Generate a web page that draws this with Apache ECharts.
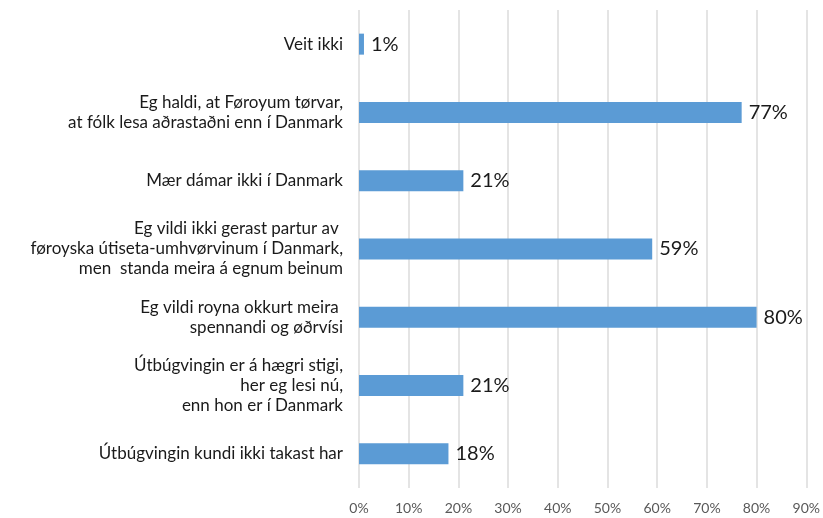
<!DOCTYPE html>
<html>
<head>
<meta charset="utf-8">
<script src="https://cdn.jsdelivr.net/npm/echarts@6/dist/echarts.min.js"></script>
<style>
  html, body { margin: 0; padding: 0; background: #fff; }
  #chart { width: 823px; height: 518px; }
</style>
</head>
<body>
<div id="chart"></div>
<script>
// kategoriir, ovast niður
const categories = [
  "Veit ikki",
  "Eg haldi, at Føroyum tørvar,\nat fólk lesa aðrastaðni enn í Danmark",
  "Mær dámar ikki í Danmark",
  "Eg vildi ikki gerast partur av \nføroyska útiseta-umhvørvinum í Danmark,\nmen  standa meira á egnum beinum",
  "Eg vildi royna okkurt meira \nspennandi og øðrvísi",
  "Útbúgvingin er á hægri stigi,\nher eg lesi nú,\nenn hon er í Danmark",
  "Útbúgvingin kundi ikki takast har"
];
const values = [1, 77, 21, 59, 80, 21, 18];
const xTicks = [0, 10, 20, 30, 40, 50, 60, 70, 80, 90];

const myChart = echarts.init(document.getElementById("chart"));
const font = "Lato, 'Open Sans', sans-serif";

myChart.setOption({
  animation: false,
  grid: { left: 359, right: 13, top: 10, bottom: 30 },
  xAxis: {
    type: "value",
    min: xTicks[0],
    max: xTicks[xTicks.length - 1],
    interval: 10,
    axisLine: { show: false },
    axisTick: { show: false },
    splitLine: { lineStyle: { color: "#e4e4e4", width: 2 } },
    axisLabel: {
      formatter: "{value}%",
      color: "#595959",
      fontSize: 14,
      fontFamily: font,
      margin: 13
    }
  },
  yAxis: {
    type: "category",
    inverse: true,
    data: categories,
    axisLine: { show: false },
    axisTick: { show: false },
    axisLabel: {
      color: "#1a1a1a",
      fontSize: 17,
      fontFamily: font,
      lineHeight: 20,
      margin: 16,
      align: "right"
    }
  },
  series: [
    {
      type: "bar",
      data: values,
      barWidth: 21,
      itemStyle: { color: "#5b9bd5" },
      label: {
        show: true,
        position: "right",
        distance: 7,
        formatter: "{c}%",
        color: "#1a1a1a",
        fontSize: 20,
        fontFamily: font
      }
    }
  ]
});

window.onresize = function () {
  myChart.resize();
};
</script>
</body>
</html>
